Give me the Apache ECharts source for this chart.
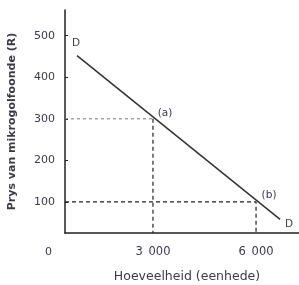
<!DOCTYPE html>
<html>
<head>
<meta charset="utf-8">
<script src="https://cdn.jsdelivr.net/npm/echarts@6/dist/echarts.min.js"></script>
<style>
  html, body { margin: 0; padding: 0; background: #fff; }
  #chart { width: 299px; height: 285px; }
</style>
</head>
<body>
<div id="chart"></div>
<script>
// vraaglyn D (hoeveelheid, prys)
const demandLine = [[790, 452], [6700, 58]];
const pointA = [3000, 300];
const pointB = [6000, 100];
const xTicks = [3000, 6000];
const yTicks = [100, 200, 300, 400, 500];
const xMin = 440, xMax = 7250;
const yMin = 25, yMax = 562;

const chart = echarts.init(document.getElementById('chart'));

const font = 'DejaVu Sans';
const txt = '#3a3a4a';

const option = {
  animation: false,
  grid: { left: 65, top: 10, right: 0, bottom: 52, outerBoundsMode: 'none', containLabel: false },
  xAxis: {
    type: 'value', min: xMin, max: xMax,
    splitLine: { show: false },
    axisLine: { lineStyle: { color: '#222', width: 1.5 } },
    axisTick: { show: false },
    axisLabel: {
      customValues: xTicks, margin: 13,
      color: txt, fontFamily: font, fontSize: 11.5,
      formatter: v => String(v).replace(/(\d)(\d{3})$/, '$1\u2002$2')
    },
    name: 'Hoeveelheid (eenhede)', nameLocation: 'middle', nameGap: 37,
    nameTextStyle: { color: txt, fontFamily: font, fontSize: 12.5, padding: [0, 0, 0, 10] }
  },
  yAxis: {
    type: 'value', min: yMin, max: yMax,
    splitLine: { show: false },
    axisLine: { lineStyle: { color: '#222', width: 1.5 } },
    axisTick: { customValues: yTicks, inside: true, length: 3, lineStyle: { color: '#222' } },
    axisLabel: {
      customValues: yTicks, margin: 10,
      color: txt, fontFamily: font, fontSize: 11
    },
    name: 'Prys van mikrogolfoonde (R)', nameLocation: 'middle', nameGap: 47,
    nameTextStyle: { color: txt, fontFamily: font, fontSize: 11, fontWeight: 'bold' }
  },
  graphic: [{
    type: 'text', left: 45, top: 247,
    style: { text: '0', fill: txt, font: '11px DejaVu Sans' }
  }],
  series: [
    {
      type: 'line', symbol: 'none', silent: true,
      data: [[xMin, pointA[1]], pointA],
      lineStyle: { color: '#777', width: 1, type: [3, 3] }
    },
    {
      type: 'line', symbol: 'none', silent: true,
      data: [pointA, [pointA[0], yMin]],
      lineStyle: { color: '#222', width: 1.2, type: [4, 3] }
    },
    {
      type: 'line', symbol: 'none', silent: true,
      data: [[xMin, pointB[1]], pointB, [pointB[0], yMin]],
      lineStyle: { color: '#222', width: 1.2, type: [4, 3] }
    },
    {
      type: 'line', symbol: 'none', silent: true,
      data: demandLine,
      lineStyle: { color: '#333', width: 1.5 },
      markPoint: {
        symbol: 'circle', symbolSize: 0,
        label: { color: txt, fontFamily: font, fontSize: 10.5 },
        data: [
          { coord: demandLine[0], label: { formatter: 'D', offset: [-1, -12] } },
          { coord: pointA, label: { formatter: '(a)', offset: [12, -6] } },
          { coord: pointB, label: { formatter: '(b)', offset: [13, -7] } },
          { coord: demandLine[1], label: { formatter: 'D', offset: [9, 5] } }
        ]
      }
    }
  ]
};

chart.setOption(option);
</script>
</body>
</html>
